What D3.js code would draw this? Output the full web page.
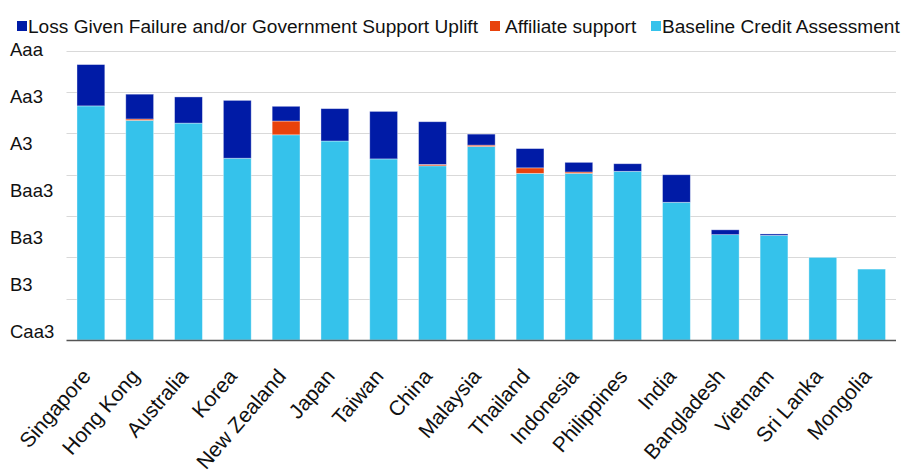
<!DOCTYPE html>
<html>
<head>
<meta charset="utf-8">
<script src="https://cdn.jsdelivr.net/npm/d3@7"></script>
<style>
  body { margin: 0; background: #fff; }
  text { font-family: "Liberation Sans", Arial, sans-serif; fill: #111; }
</style>
</head>
<body>
<div id="chart"></div>
<script>
// rating notches above Caa3 (Caa3 = 0, B3 = 3, ... Aaa = 18)
const countries = ['Singapore', 'Hong Kong', 'Australia', 'Korea', 'New Zealand', 'Japan', 'Taiwan',
    'China', 'Malaysia', 'Thailand', 'Indonesia', 'Philippines', 'India', 'Bangladesh', 'Vietnam',
    'Sri Lanka', 'Mongolia']
const baseline = [17, 15.95, 15.75, 13.2, 14.9, 14.45, 13.15, 12.65, 14.05, 12.1, 12.1, 12.25, 10.0, 7.65, 7.6, 6.0, 5.15]
const affiliate = [0, 0.1, 0, 0, 1.0, 0, 0, 0.1, 0.1, 0.4, 0.1, 0, 0, 0, 0, 0, 0]
const uplift = [3.0, 1.8, 1.9, 4.2, 1.07, 2.35, 3.45, 3.1, 0.8, 1.4, 0.7, 0.55, 2.0, 0.35, 0.1, 0, 0]

const ratingLabels = ['Aaa', 'Aa3', 'A3', 'Baa3', 'Ba3', 'B3', 'Caa3']
const gridTicks = [0, 3, 6, 9, 12, 15, 18, 21]

const seriesNames = ['Loss Given Failure and/or Government Support Uplift', 'Affiliate support', 'Baseline Credit Assessment']
const keys = ['baseline', 'affiliate', 'uplift']
const colors = { uplift: '#001ba6', affiliate: '#e8420c', baseline: '#35c2eb' }

const width = 905
const height = 474

const rows = countries.map((c, i) => ({
    country: c,
    baseline: baseline[i],
    affiliate: affiliate[i],
    uplift: uplift[i]
}))

const svg = d3.select('#chart').append('svg')
    .attr('width', width)
    .attr('height', height)

const x = d3.scaleBand()
    .domain(countries)
    .range([66.5, 896])
    .paddingInner(0.43)
    .paddingOuter(0.215)

const y = d3.scaleLinear()
    .domain([0, 21])
    .range([340, 50.8])

// labels sit on their own evenly spread positions
const yLab = d3.scalePoint()
    .domain(ratingLabels)
    .range([49.5, 331])

// grid
svg.append('g')
    .selectAll('line')
    .data(gridTicks.filter(d => d > 0))
    .enter().append('line')
    .attr('x1', 66.5)
    .attr('x2', 896)
    .attr('y1', d => Math.round(y(d)) + 0.5)
    .attr('y2', d => Math.round(y(d)) + 0.5)
    .attr('stroke', '#d9d9d9')
    .attr('stroke-width', 1.2)

svg.append('g')
    .selectAll('text')
    .data(ratingLabels)
    .enter().append('text')
    .attr('x', 10)
    .attr('y', d => yLab(d))
    .attr('dy', '0.36em')
    .style('font-size', '18.5px')
    .text(d => d)

// stacked bars
const stack = d3.stack().keys(keys)(rows)

svg.append('g')
    .selectAll('g')
    .data(stack)
    .enter().append('g')
    .attr('fill', d => colors[d.key])
    .selectAll('rect')
    .data(d => d.filter(p => p[1] - p[0] > 0))
    .enter().append('rect')
    .attr('x', d => x(d.data.country))
    .attr('width', x.bandwidth())
    .attr('y', d => y(d[1]))
    .attr('height', d => y(d[0]) - y(d[1]))
    .attr('stroke', '#fff')
    .attr('stroke-opacity', 0.45)
    .attr('stroke-width', 0.8)

// axis line
svg.append('line')
    .attr('x1', 66.5)
    .attr('x2', 896)
    .attr('y1', 340.5)
    .attr('y2', 340.5)
    .attr('stroke', '#555')
    .attr('stroke-width', 1.5)

// category labels
svg.append('g')
    .selectAll('text')
    .data(countries)
    .enter().append('text')
    .attr('transform', d => `translate(${x(d) + x.bandwidth() / 2 + 1},${377}) rotate(-49)`)
    .attr('text-anchor', 'end')
    .style('font-size', '21px')
    .text(d => d)

// legend
const legendItems = [
    { name: seriesNames[0], key: 'uplift', x: 17, tx: 11 },
    { name: seriesNames[1], key: 'affiliate', x: 490, tx: 15 },
    { name: seriesNames[2], key: 'baseline', x: 651, tx: 11 }
]
const legend = svg.append('g')
    .selectAll('g')
    .data(legendItems)
    .enter().append('g')
    .attr('transform', d => `translate(${d.x},21)`)

legend.append('rect')
    .attr('width', 10)
    .attr('height', 10)
    .attr('fill', d => colors[d.key])

legend.append('text')
    .attr('x', d => d.tx)
    .attr('y', 5)
    .attr('dy', '0.36em')
    .style('font-size', '19.1px')
    .text(d => d.name)
</script>
</body>
</html>
